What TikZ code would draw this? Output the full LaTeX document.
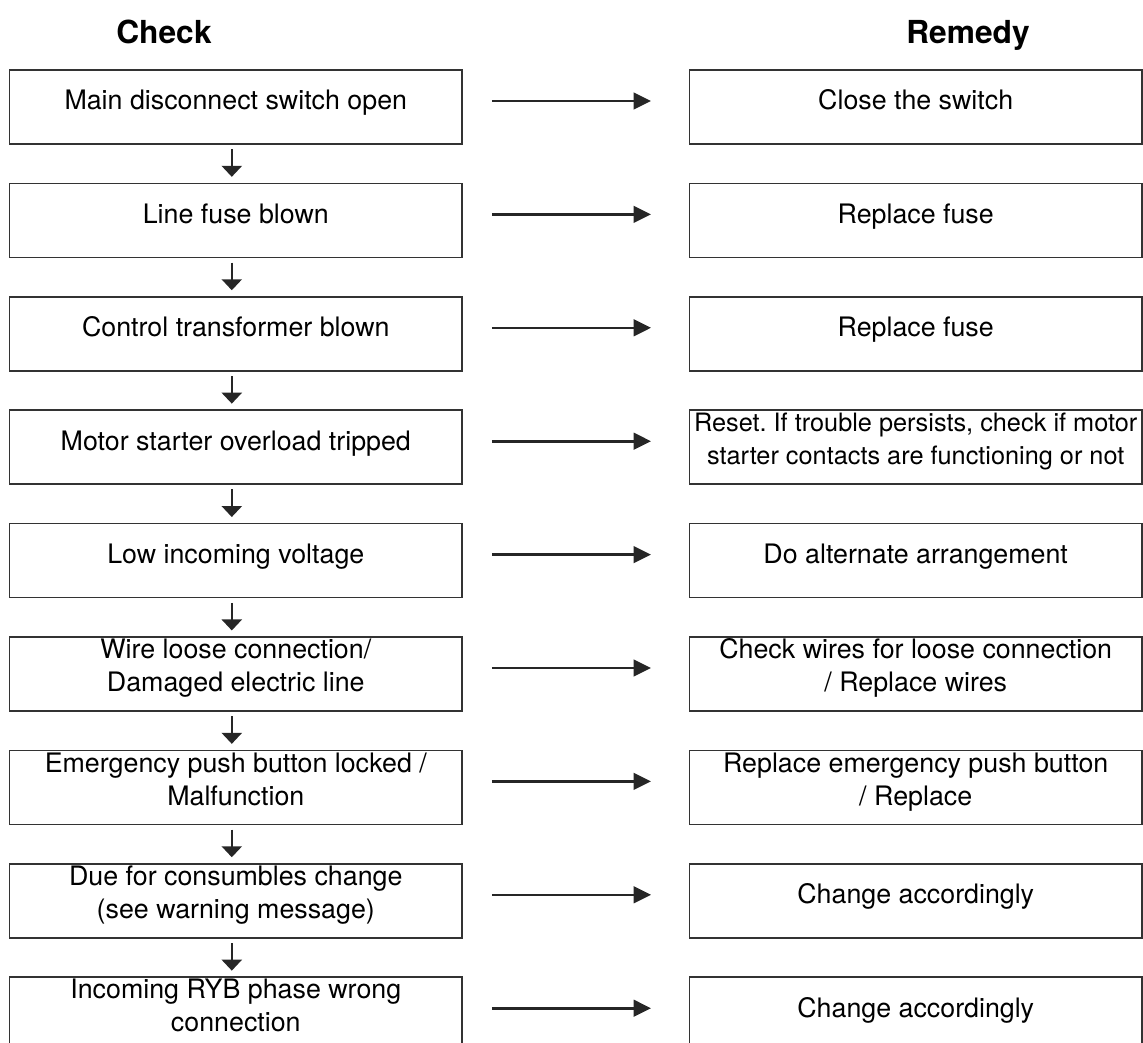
\documentclass[tikz,border=0pt]{standalone}
\usepackage{fontspec}
\setmainfont{TeX Gyre Heros}
\frenchspacing
\usetikzlibrary{arrows.meta,calc}
\tikzset{
  chk/.style={draw=black!80, line width=1.7pt, rectangle, minimum width=452.5pt,
    minimum height=74pt, inner sep=0pt, align=center,
    font=\fontsize{26.8}{33}\selectfont,
    execute at begin node=\strut,
    execute at end node={\rule[-17.1pt]{0pt}{17.1pt}}},
  smalltxt/.style={font=\fontsize{25.3}{33}\selectfont},
  hd/.style={font=\bfseries\fontsize{31.7}{36}\selectfont, anchor=base, inner sep=0pt},
  downarr/.style={draw=black!85, line width=2.5pt, -{Triangle[length=11pt,width=20pt]}},
  harr/.style={draw=black!85, line width=2.6pt, -{Triangle[length=17.4pt,width=16.6pt]}}
}
\begin{document}
\begin{tikzpicture}[x=1pt,y=-1pt]
\useasboundingbox (0,0) rectangle (1143,1043);
\node[hd] (hc) at (164,43.3) {Check};
\node[hd] (hr) at (968,43.3) {Remedy};

\node[chk] (l1) at (235.8,107)    {Main disconnect switch open};
\node[chk] (l2) at (235.8,220.4)  {Line fuse blown};
\node[chk] (l3) at (235.8,333.8)  {Control transformer blown};
\node[chk] (l4) at (235.8,447.2)  {Motor starter overload tripped};
\node[chk] (l5) at (235.8,560.6)  {Low incoming voltage};
\node[chk] (l6) at (235.8,674)    {Wire loose connection/\\Damaged electric line};
\node[chk] (l7) at (235.8,787.4)  {Emergency push button locked /\\Malfunction};
\node[chk] (l8) at (235.8,900.8)  {Due for consumbles change\\(see warning message)};
\node[chk] (l9) at (235.8,1014.2) {Incoming RYB phase wrong\\connection};

\node[chk] (r1) at (915.7,107)    {Close the switch};
\node[chk] (r2) at (915.7,220.4)  {Replace fuse};
\node[chk] (r3) at (915.7,333.8)  {Replace fuse};
\node[chk,smalltxt] (r4) at (915.7,447.2) {Reset. If trouble persists, check if motor\\starter contacts are functioning or not};
\node[chk] (r5) at (915.7,560.6)  {Do alternate arrangement};
\node[chk] (r6) at (915.7,674)    {Check wires for loose connection\\/ Replace wires};
\node[chk] (r7) at (915.7,787.4)  {Replace emergency push button\\/ Replace};
\node[chk] (r8) at (915.7,900.8)  {Change accordingly};
\node[chk] (r9) at (915.7,1014.2) {Change accordingly};

\foreach \i in {1,...,9}
  \draw[harr] ([xshift=29pt,yshift=6pt]l\i.east) -- ([xshift=-37.6pt,yshift=6pt]r\i.west);
\foreach \i [count=\j from 2] in {1,...,8}
  \draw[downarr] ([xshift=-4pt,yshift=-4.4pt]l\i.south) -- ([xshift=-4pt,yshift=5.7pt]l\j.north);
\end{tikzpicture}
\end{document}
